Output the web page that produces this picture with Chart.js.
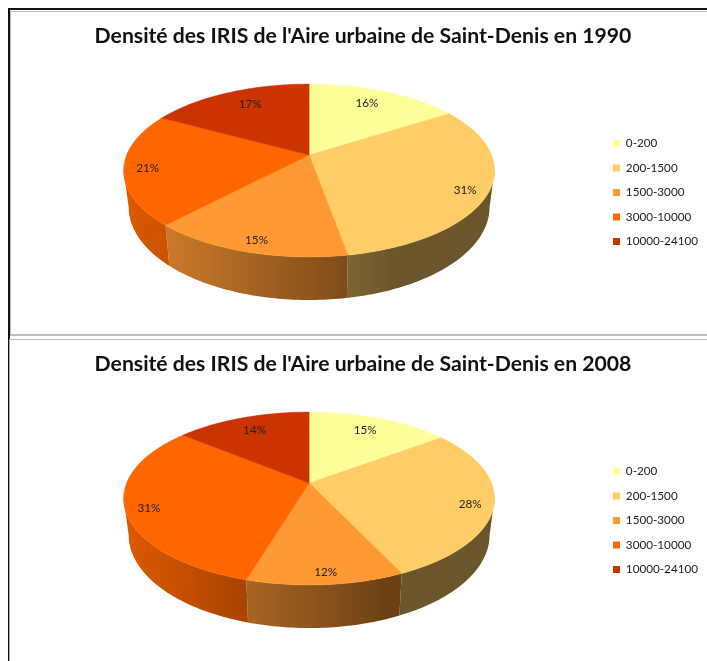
<!DOCTYPE html>
<html>
<head>
<meta charset="utf-8">
<script src="https://cdn.jsdelivr.net/npm/chart.js@4"></script>
<style>
  html, body { margin: 0; padding: 0; background: #fff; overflow: hidden; }
  .line { position: absolute; }
  canvas { position: absolute; left: 10px; }
</style>
</head>
<body>
<div class="line" style="left:8px;top:8px;width:2px;height:331px;background:#111"></div>
<div class="line" style="left:8px;top:339px;width:1px;height:322px;background:#111"></div>
<div class="line" style="left:8px;top:8px;width:699px;height:2px;background:#111"></div>
<div class="line" style="left:10px;top:11px;width:697px;height:1px;background:#bbb"></div>
<div class="line" style="left:10px;top:11px;width:1px;height:324px;background:#bbb"></div>
<div class="line" style="left:10px;top:334px;width:697px;height:2px;background:#bbb"></div>
<div class="line" style="left:9px;top:339px;width:698px;height:1px;background:#bbb"></div>
<div class="line" style="left:9px;top:339px;width:1px;height:322px;background:#aaa"></div>
<canvas id="chart1990" width="698" height="322" style="top:11px;width:698px;height:322px"></canvas>
<canvas id="chart2008" width="698" height="322" style="top:339px;width:698px;height:322px"></canvas>
<script>
const categories = ['0-200', '200-1500', '1500-3000', '3000-10000', '10000-24100'];
const values1990 = [15.9, 31.3, 14.8, 21, 17];
const values2008 = [14.8, 28.2, 11.6, 31.4, 14];
const colors = ['#ffff99', '#ffcc66', '#ff9933', '#ff6600', '#cc3300'];
const title1990 = "Densité des IRIS de l'Aire urbaine de Saint-Denis en 1990";
const title2008 = "Densité des IRIS de l'Aire urbaine de Saint-Denis en 2008";

// the pie is seen in perspective: the hub sits above the centre of the ellipse
const tilt = 0.179;

function project(arc, a, r, lower) {
  const R = arc.outerRadius;
  const x = r * Math.sin(a), y = r * Math.cos(a);
  const d = 1 + tilt * y;
  const nx = x * Math.sqrt(1 - tilt * tilt) / d;
  const ny = (y + tilt) / d;
  if (lower) {
    return { x: arc.x + nx * R * 1.3175, y: arc.y + 14 - ny * R * 0.679, nx, ny };
  }
  return { x: arc.x + nx * R * 1.354, y: arc.y - 22.5 - ny * R * 0.631, nx, ny };
}

function shade(hex, m) {
  const n = parseInt(hex.slice(1), 16);
  return 'rgb(' + [(n >> 16) & 255, (n >> 8) & 255, n & 255].map((c) => Math.round(c * m)).join(',') + ')';
}

function angles(arc) {
  return [arc.startAngle + Math.PI / 2, arc.endAngle + Math.PI / 2];
}

const pie3d = {
  id: 'pie3d',
  afterLayout(chart) {
    // bring the legend level with the pie
    chart.legend.top += 22;
    chart.legend.bottom += 22;
  },
  beforeDatasetsDraw(chart) {
    const ctx = chart.ctx;
    const arcs = chart.getDatasetMeta(0).data;
    const sideFrom = Math.PI / 2 + Math.asin(tilt);
    const sideTo = 2 * Math.PI - sideFrom;
    const step = Math.PI / 180;

    // sides
    arcs.forEach((arc, i) => {
      const [s, e] = angles(arc);
      const a1 = Math.max(s, sideFrom), a2 = Math.min(e, sideTo);
      if (a2 <= a1) return;
      const left = arc.x - arc.outerRadius * 1.354;
      const right = arc.x + arc.outerRadius * 1.354;
      const grad = ctx.createLinearGradient(left, 0, right, 0);
      grad.addColorStop(0, shade(colors[i], 0.87));
      grad.addColorStop(0.72, shade(colors[i], 0.42));
      grad.addColorStop(1, shade(colors[i], 0.42));
      ctx.beginPath();
      for (let a = a1; a < a2; a += step) {
        const p = project(arc, a, 1);
        ctx.lineTo(p.x, p.y);
      }
      let p = project(arc, a2, 1);
      ctx.lineTo(p.x, p.y);
      for (let a = a2; a > a1; a -= step) {
        p = project(arc, a, 1, true);
        ctx.lineTo(p.x, p.y);
      }
      p = project(arc, a1, 1, true);
      ctx.lineTo(p.x, p.y);
      ctx.closePath();
      ctx.fillStyle = grad;
      ctx.fill();
    });

    // top face
    arcs.forEach((arc, i) => {
      const [s, e] = angles(arc);
      const hub = project(arc, 0, 0);
      ctx.beginPath();
      ctx.moveTo(hub.x, hub.y);
      for (let a = s; a < e; a += step) {
        const p = project(arc, a, 1);
        ctx.lineTo(p.x, p.y);
      }
      const p = project(arc, e, 1);
      ctx.lineTo(p.x, p.y);
      ctx.closePath();
      ctx.fillStyle = colors[i];
      ctx.strokeStyle = colors[i];
      ctx.lineWidth = 0.5;
      ctx.fill();
      ctx.stroke();
    });

    // percent labels, just inside the rim
    const values = chart.data.datasets[0].data;
    const total = values.reduce((t, v) => t + v, 0);
    ctx.font = '11.7px Lato';
    ctx.fillStyle = '#222';
    ctx.textAlign = 'center';
    ctx.textBaseline = 'middle';
    arcs.forEach((arc, i) => {
      const [s, e] = angles(arc);
      const p = project(arc, (s + e) / 2, 1);
      const dx = Math.sign(p.nx) * Math.min(1, Math.pow(Math.abs(p.nx) / 0.45, 3)) * 24;
      const dy = Math.sign(p.ny) * Math.min(1, p.ny * p.ny * 1.2) * 12;
      ctx.fillText(Math.round(values[i] / total * 100) + '%', p.x - dx, p.y + dy);
    });
    return false;
  }
};

function makePie(id, title, values) {
  new Chart(document.getElementById(id), {
    type: 'pie',
    data: {
      labels: categories,
      datasets: [{ data: values, backgroundColor: colors, borderWidth: 0 }]
    },
    plugins: [pie3d],
    options: {
      responsive: false,
      animation: false,
      layout: { padding: { left: 8, right: 0, top: 0, bottom: 3 } },
      plugins: {
        tooltip: { enabled: false },
        title: {
          display: true,
          text: title,
          color: '#111',
          font: { family: 'Lato', size: 21.2, weight: 'bold' },
          padding: { top: 12.4, bottom: 7.2 }
        },
        legend: {
          position: 'right',
          labels: {
            boxWidth: 7,
            boxHeight: 7,
            padding: 12.8,
            color: '#222',
            font: { family: 'Lato', size: 11.7 }
          }
        }
      }
    }
  });
}

makePie('chart1990', title1990, values1990);
makePie('chart2008', title2008, values2008);
</script>
</body>
</html>
